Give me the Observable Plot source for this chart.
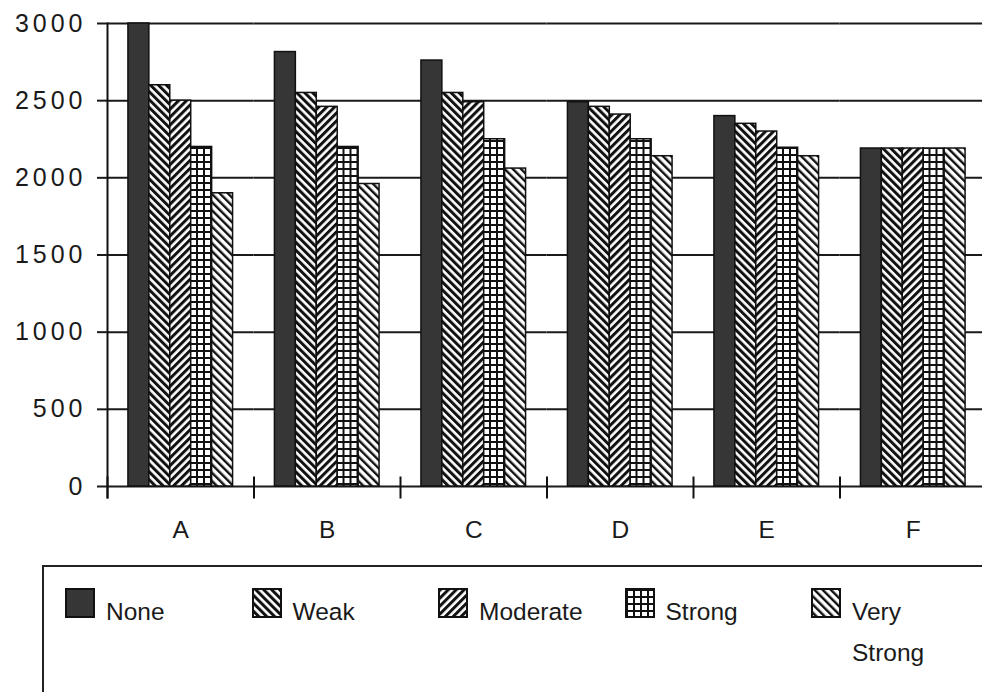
<!DOCTYPE html>
<html>
<head>
<meta charset="utf-8">
<script src="https://cdn.jsdelivr.net/npm/d3@7"></script>
<script src="https://cdn.jsdelivr.net/npm/@observablehq/plot@0.6"></script>
<style>
  html, body { margin: 0; padding: 0; background: #fff; overflow: hidden; width: 982px; height: 692px; }
  #chart { position: absolute; left: 0; top: 0; }
  #legendbox { position: absolute; left: 42px; top: 565px; width: 1000px; height: 200px;
    border: 2px solid #222; box-sizing: border-box; padding: 22px 0 0 22px; background: #fff; }
  svg [aria-label="y-axis tick label"] { letter-spacing: 4px; }
  .lg-swatches { display: flex !important; columns: auto !important; margin: 0 !important;
    font: 24.5px "Liberation Sans", Arial, sans-serif !important; color: #1a1a1a; }
  .lg-swatch { display: flex !important; align-items: flex-start !important; width: 186.5px; flex: none; padding: 0 !important; }
  .lg-swatch > svg { margin-right: 12px !important; flex-shrink: 0; overflow: visible; }
  .lg-swatch rect { stroke: #111; stroke-width: 2px; }
  .lg-swatch-label { white-space: normal !important; overflow: visible !important; max-width: 112px; line-height: 41px; margin-top: 2px; }
</style>
</head>
<body>
<svg width="0" height="0" style="position:absolute">
  <defs>
    <pattern id="pWeak" patternUnits="userSpaceOnUse" width="5.6" height="5.6" patternTransform="rotate(-45)">
      <rect width="5.6" height="5.6" fill="#fff"/>
      <rect width="3" height="5.6" fill="#111"/>
    </pattern>
    <pattern id="pModerate" patternUnits="userSpaceOnUse" width="5.6" height="5.6" patternTransform="rotate(45)">
      <rect width="5.6" height="5.6" fill="#fff"/>
      <rect width="3" height="5.6" fill="#111"/>
    </pattern>
    <pattern id="pStrong" patternUnits="userSpaceOnUse" width="7" height="7">
      <rect width="7" height="7" fill="#fff"/>
      <rect width="2" height="7" fill="#111"/>
      <rect width="7" height="2" fill="#111"/>
    </pattern>
    <pattern id="pVery" patternUnits="userSpaceOnUse" width="5.8" height="5.8" patternTransform="rotate(-45)">
      <rect width="5.8" height="5.8" fill="#fff"/>
      <rect width="2.4" height="5.8" fill="#111"/>
    </pattern>
  </defs>
</svg>
<div id="chart"></div>
<div id="legendbox"></div>
<script>
const categories = ["A", "B", "C", "D", "E", "F"];
const seriesNames = ["None", "Weak", "Moderate", "Strong", "Very Strong"];
const noneValues = [3000, 2815, 2760, 2490, 2400, 2190];
const weakValues = [2600, 2550, 2550, 2460, 2350, 2190];
const moderateValues = [2500, 2460, 2490, 2410, 2300, 2190];
const strongValues = [2200, 2200, 2250, 2250, 2195, 2190];
const veryStrongValues = [1900, 1960, 2060, 2140, 2140, 2190];
const yTicks = [0, 500, 1000, 1500, 2000, 2500, 3000];
const seriesFills = ["#363636", "url(#pWeak)", "url(#pModerate)", "url(#pStrong)", "url(#pVery)"];

const valueLists = [noneValues, weakValues, moderateValues, strongValues, veryStrongValues];
const data = [];
categories.forEach((cat, i) => {
  seriesNames.forEach((s, j) => data.push({cat, series: s, value: valueLists[j][i]}));
});

const chart = Plot.plot({
  width: 982,
  height: 560,
  marginLeft: 107,
  marginRight: -4,
  marginTop: 23,
  marginBottom: 74,
  style: {fontFamily: "'Liberation Sans', Arial, sans-serif", fontSize: "24px", color: "#1a1a1a", background: "#fff", overflow: "visible"},
  fx: {domain: categories, paddingInner: 0, paddingOuter: 0, round: false, label: null},
  x: {domain: seriesNames, paddingInner: 0, paddingOuter: 1, round: false, axis: null},
  y: {domain: [0, 3000], label: null},
  color: {domain: seriesNames, range: seriesFills},
  marks: [
    Plot.gridY(yTicks, {stroke: "#1a1a1a", strokeOpacity: 1, strokeWidth: 2}),
    Plot.barY(data, {fx: "cat", x: "series", y: "value", fill: "series", stroke: "#111", strokeWidth: 1.5}),
    Plot.frame({anchor: "left", stroke: "#111", strokeWidth: 2, insetTop: 454, insetBottom: -11}),
    Plot.frame({facet: "super", anchor: "left", stroke: "#111", strokeWidth: 2, insetBottom: -11}),
    Plot.axisY({ticks: yTicks, tickFormat: d3.format("d"), tickSize: 10, tickPadding: 11, strokeWidth: 2, label: null, fontSize: 25}),
    Plot.axisFx({anchor: "bottom", tickSize: 0, tickPadding: 34, label: null, fontSize: 24.5})
  ]
});
document.getElementById("chart").appendChild(chart);

const legend = chart.legend("color", {columns: 5, className: "lg", swatchSize: 28});
document.getElementById("legendbox").appendChild(legend);
</script>
</body>
</html>
